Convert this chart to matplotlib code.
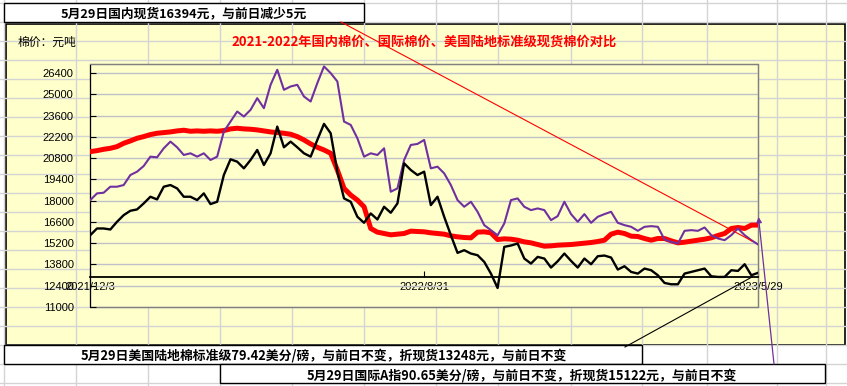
import numpy as np
import matplotlib.pyplot as plt
from matplotlib.patches import Rectangle

plt.rcParams['font.family'] = ['Noto Sans CJK SC', 'DejaVu Sans']

# 国内现货棉价 (元/吨)
domestic = [21230, 21296, 21384, 21450, 21560, 21780, 21934, 22110, 22220, 22352,
            22440, 22484, 22528, 22594, 22638, 22572, 22594, 22572, 22594, 22572,
            22616, 22726, 22770, 22726, 22704, 22660, 22594, 22528, 22484, 22440,
            22374, 22220, 22000, 21736, 21516, 21340, 21120, 20020, 18810, 18370,
            18040, 17600, 16170, 15928, 15840, 15752, 15796, 15840, 15994, 15972,
            15950, 15884, 15840, 15796, 15686, 15620, 15576, 15554, 15928, 15950,
            15884, 15444, 15488, 15466, 15400, 15290, 15224, 15114, 15004, 15026,
            15070, 15092, 15114, 15158, 15202, 15246, 15312, 15400, 15796, 15928,
            15840, 15664, 15642, 15510, 15400, 15510, 15510, 15356, 15224, 15268,
            15334, 15400, 15466, 15554, 15708, 15840, 16170, 16236, 16170, 16390,
            16394]

# 国际A指折现货
cotlook_a = [18040, 18480, 18524, 18920, 18920, 19030, 19690, 19910, 20284, 20900,
             20856, 21450, 21890, 21516, 21010, 21120, 20900, 21120, 20680, 20900,
             22550, 23210, 23870, 23540, 23980, 24750, 24090, 25630, 26620, 25300,
             25520, 25630, 24860, 24530, 25740, 26840, 26400, 25850, 23210, 22990,
             22110, 20900, 21120, 21010, 21450, 18590, 18810, 20680, 21670, 21736,
             22000, 20130, 20240, 19800, 19030, 18040, 17600, 17930, 17270, 16390,
             16060, 15720, 16500, 18040, 18150, 17600, 17380, 17490, 17380, 16720,
             16984, 17930, 17116, 16610, 17116, 16544, 16940, 17116, 17270, 16544,
             16390, 16280, 16016, 16280, 16324, 16280, 15444, 15290, 15180, 16016,
             16060, 16016, 16236, 15730, 15510, 15400, 15730, 16170, 15730, 15400,
             15122]

# 美国陆地棉标准级折现货
us_upland = [15730, 16170, 16170, 16104, 16610, 17050, 17336, 17424, 17820, 18260,
             18084, 18920, 19030, 18810, 18260, 18260, 18040, 18480, 17776, 17930,
             19690, 20724, 20570, 20130, 20680, 21340, 20350, 21120, 22880, 21516,
             21890, 21516, 21120, 20900, 22000, 23056, 22440, 19910, 18150, 17930,
             16940, 16544, 17160, 16764, 17600, 17204, 17820, 20460, 20020, 19690,
             19910, 17710, 18260, 16940, 15730, 14564, 14740, 14520, 14410, 13970,
             13200, 12250, 14960, 15048, 15180, 14190, 13860, 14300, 14190, 13596,
             14014, 14520, 14036, 13596, 14190, 13816, 14344, 14388, 14256, 13464,
             13684, 13310, 13200, 13530, 13420, 13090, 12584, 12496, 12496, 13200,
             13310, 13420, 13530, 13024, 12980, 12980, 13420, 13376, 13816, 13090,
             13248]

date_labels = ['2021/12/3', '2022/8/31', '2023/5/29']
y_ticks = list(range(11000, 26401, 1400))

W, H = 847, 386
fig = plt.figure(figsize=(W / 100, H / 100), dpi=100)

# sheet background
bg = fig.add_axes([0, 0, 1, 1], zorder=0)
bg.set_xlim(0, W)
bg.set_ylim(H, 0)
bg.axis('off')
col_x = [4, 76, 148, 220, 292, 364, 436, 498, 571, 642, 707, 777, 826]
for cx in col_x:
    bg.axvline(cx, color='#D4D4D4', lw=1)
for ry in np.arange(3.3, H, 19):
    bg.axhline(ry, color='#D4D4D4', lw=1)

bg.add_patch(Rectangle((5.5, 23.5), 839.5, 321.5, facecolor='#FFFFCC',
                       edgecolor='black', lw=1.2))
bg.text(18, 42, '棉价：元吨', fontsize=8.5, ha='left', va='center')
bg.text(424, 42, '2021-2022年国内棉价、国际棉价、美国陆地标准级现货棉价对比',
        color='#FF0000', fontsize=9.5, fontweight='bold', ha='center', va='center')

# plot area
ax = fig.add_axes([90.3 / W, 1 - 307 / H, (758 - 90.3) / W, (307 - 64) / H], zorder=1)
ax.set_facecolor('#FFFFCC')
ax.patch.set_edgecolor('#808080')
ax.patch.set_linewidth(1.0)
x = np.arange(len(domestic))
ax.plot(x, domestic, color='#FF0000', lw=3.6, zorder=3)
ax.plot(x, cotlook_a, color='#7030A0', lw=1.5, zorder=4)
ax.plot(x, us_upland, color='black', lw=1.7, zorder=5)
ax.set_xlim(0, len(x) - 1)
ax.set_ylim(11000, 27000)
ax.set_yticks(y_ticks)
ax.set_xticks([0, (len(x) - 1) // 2, len(x) - 1])
ax.set_xticklabels(date_labels)
ax.yaxis.grid(True, color='#C0C0C8', lw=1)
ax.set_axisbelow(True)

ax.spines['bottom'].set_position(('data', 13000))
ax.spines['bottom'].set_color('black')
ax.spines['bottom'].set_linewidth(1.3)
ax.spines['left'].set_color('black')
ax.spines['top'].set_color('#808080')
ax.spines['right'].set_color('#808080')
ax.tick_params(axis='y', direction='in', length=4, pad=12, labelsize=8)
ax.tick_params(axis='x', direction='in', length=4, pad=4, labelsize=8)
for lab in ax.get_xticklabels() + ax.get_yticklabels():
    lab.set_fontfamily('Liberation Sans')

# overlay: text boxes and leader lines
ov = fig.add_axes([0, 0, 1, 1], zorder=2)
ov.set_xlim(0, W)
ov.set_ylim(H, 0)
ov.axis('off')
ov.plot([341, 752], [22, 241], color='#FF0000', lw=0.8)
ov.plot([625, 752], [347, 277], color='black', lw=0.8)
ov.annotate('', xy=(758.5, 217), xytext=(774, 364),
            arrowprops=dict(arrowstyle='-|>', color='#7030A0', lw=0.9,
                            mutation_scale=8, shrinkA=0, shrinkB=0))

ov.add_patch(Rectangle((4, 3.3), 360, 19, facecolor='white', edgecolor='black', lw=1))
ov.text(184, 14, '5月29日国内现货16394元，与前日减少5元', fontsize=9.2,
        fontweight='bold', ha='center', va='center')
ov.add_patch(Rectangle((4, 345), 638, 19, facecolor='white', edgecolor='black', lw=1))
ov.text(324, 356, '5月29日美国陆地棉标准级79.42美分/磅，与前日不变，折现货13248元，与前日不变',
        fontsize=9.3, fontweight='bold', ha='center', va='center')
ov.add_patch(Rectangle((220, 364), 605, 19, facecolor='white', edgecolor='black', lw=1))
ov.text(522, 375.5, '5月29日国际A指90.65美分/磅，与前日不变，折现货15122元，与前日不变',
        fontsize=9.3, fontweight='bold', ha='center', va='center')

fig.savefig('out.png', dpi=100)
